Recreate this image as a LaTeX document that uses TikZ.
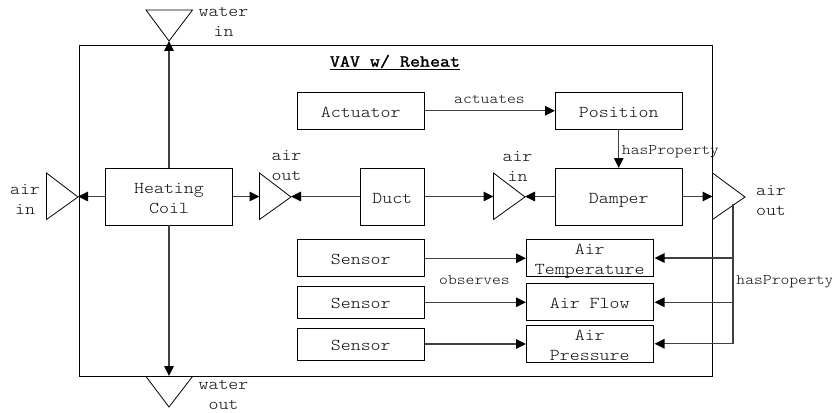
\documentclass[tikz,border=0pt]{standalone}
\usepackage{fontspec}
\setmonofont[FakeStretch=1.143]{Latin Modern Mono Light}
\newfontfamily\titlefont[FakeStretch=1.143,FakeBold=1.5]{Latin Modern Mono}
\usetikzlibrary{arrows.meta}
\definecolor{ink}{gray}{0.05}
\definecolor{wire}{gray}{0.25}
\newcommand\boxlabel[1]{\raisebox{-7pt}[0pt][0pt]{\begin{tabular}{@{}c@{}}#1\end{tabular}}}
\tikzset{
  x=1pt,y=-1pt,
  every node/.style={inner sep=0pt,outer sep=0pt},
  boxtext/.style={font=\ttfamily\fontsize{16.6}{20}\selectfont,text=ink,align=center},
  smalltext/.style={font=\ttfamily\fontsize{14.7}{18}\selectfont,text=ink,align=center},
  blockbox/.style={font=\ttfamily\fontsize{16.6}{20}\selectfont,text=ink,draw=black,line width=0.9pt,minimum width=127.5pt},
  tallbox/.style={blockbox,minimum height=57pt},
  midbox/.style={blockbox,minimum height=37pt},
  thinbox/.style={blockbox,minimum height=32pt},
  port/.style={draw=black,line width=0.8pt,line join=miter},
  link/.style={draw=wire,line width=1.1pt,-{Triangle[length=10pt,width=9.5pt,fill=black,color=black]}},
  plainlink/.style={draw=wire,line width=1.1pt},
}
\begin{document}
\begin{tikzpicture}
\useasboundingbox (0,0) rectangle (832,412);
\draw[draw=black,line width=1pt] (79,46) rectangle (712.5,376);
\node[font=\titlefont\fontsize{17}{20}\selectfont,text=black] (title) at (395,62.5) {\underline{VAV w/ Reheat}};
% boxes
\node[tallbox] (hc) at (169,196.5) {\boxlabel{Heating\\Coil}};
\node[tallbox,minimum width=64.5pt] (duct) at (392.25,196.5) {\boxlabel{Duct}};
\node[tallbox] (damper) at (618.75,196.5) {\boxlabel{Damper}};
\node[midbox] (act) at (360.75,110.75) {\boxlabel{Actuator}};
\node[midbox] (pos) at (618.75,110.75) {\boxlabel{Position}};
\node[midbox] (s1) at (360.75,258.25) {\boxlabel{Sensor}};
\node[thinbox] (s2) at (360.75,302.25) {\boxlabel{Sensor}};
\node[thinbox] (s3) at (360.75,344) {\boxlabel{Sensor}};
\node[midbox] (at) at (589.75,258) {\boxlabel{Air\\Temperature}};
\node[midbox] (af) at (589.75,302.25) {\boxlabel{Air Flow}};
\node[midbox] (ap) at (589.75,343.75) {\boxlabel{Air\\Pressure}};
% ports
\coordinate (wi) at (169,41);
\coordinate (wo) at (169,376);
\coordinate (ai) at (78,197);
\coordinate (coilout) at (291,197);
\coordinate (coilin) at (259.5,197);
\coordinate (dampin) at (525,197);
\coordinate (ductend) at (493.5,197);
\coordinate (aout) at (712.5,197);
\coordinate (j0) at (733,204);
\coordinate (j1) at (733,258);
\coordinate (j2) at (733,302.25);
\coordinate (j3) at (733,343.75);
\draw[port] (146,10) -- (192.5,10) -- (wi) -- cycle;
\draw[port] (146,376.5) -- (192.5,376.5) -- (169,407) -- cycle;
\draw[port] (46.5,173) -- (ai) -- (46.5,219.5) -- cycle;
\draw[port] (259.5,173) -- (coilout) -- (259.5,219.5) -- cycle;
\draw[port] (493.5,173) -- (dampin) -- (493.5,219.5) -- cycle;
\draw[port] (712.5,173) -- (745,197) -- (712.5,219.5) -- cycle;
% connectors
\draw[link] (hc.north) -- (wi);
\draw[link] (hc.south) -- (wo);
\draw[link] (hc.west) -- (hc.west -| ai);
\draw[link] (hc.east) -- (hc.east -| coilin);
\draw[link] (duct.west) -- (duct.west -| coilout);
\draw[link] (duct.east) -- (duct.east -| ductend);
\draw[link] (damper.west) -- (damper.west -| dampin);
\draw[link] (damper.east) -- (damper.east -| aout);
\draw[link] (act.east) -- (pos.west);
\draw[link] (pos.south) -- (damper.north);
\draw[link] (s1.east) -- (s1.east -| at.west);
\draw[link] (s2.east) -- (af.west);
\draw[link] (s3.east) -- (s3.east -| ap.west);
\draw[plainlink] (j0) -- (j3);
\draw[link,shorten >=1pt] (j1) -- (at.east);
\draw[link,shorten >=1pt] (j2) -- (af.east);
\draw[link,shorten >=1pt] (j3) -- (ap.east);
% labels
\node[boxtext] (l1) at (223.5,22) {water\\in};
\node[boxtext] (l2) at (223.5,395) {water\\out};
\node[boxtext] (l3) at (25,199) {air\\in};
\node[boxtext] (l4) at (286.5,166) {air\\out};
\node[boxtext] (l5) at (517.5,166) {air\\in};
\node[boxtext] (l6) at (771,201) {air\\out};
\node[smalltext] (l7) at (489.5,99) {actuates};
\node[smalltext] (l8) at (670.5,151.5) {hasProperty};
\node[smalltext] (l9) at (474.5,280) {observes};
\node[smalltext] (l10) at (785,281.5) {hasProperty};
\end{tikzpicture}
\end{document}
